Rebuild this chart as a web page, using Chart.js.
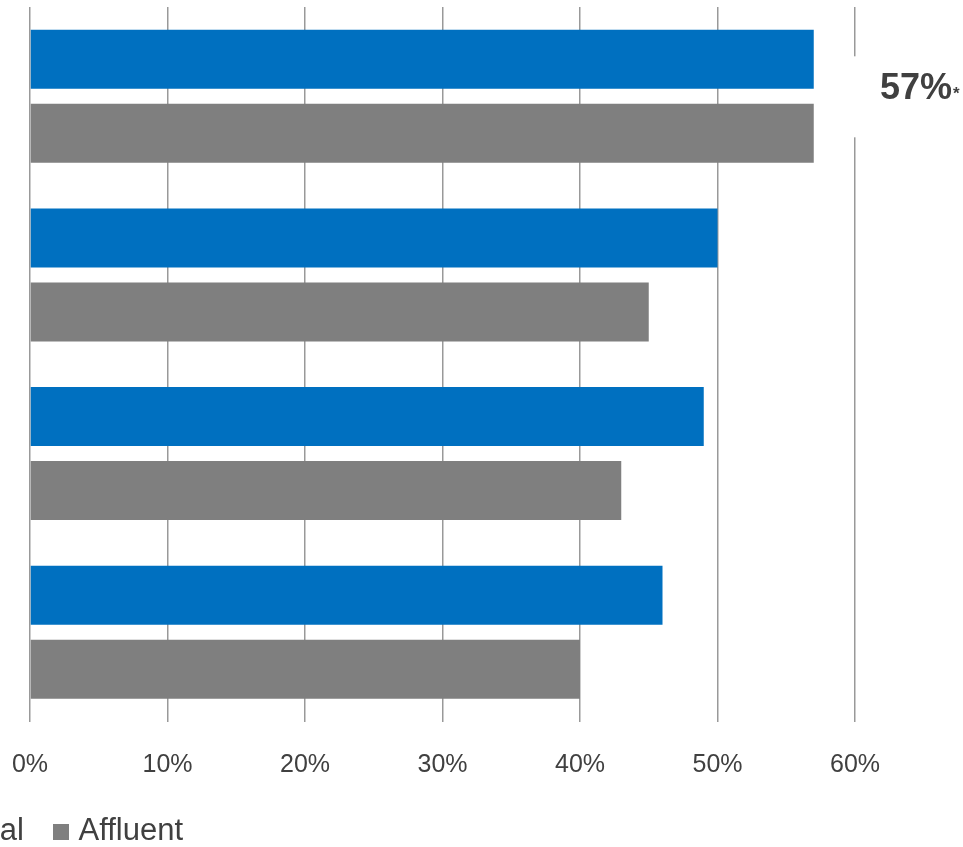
<!DOCTYPE html>
<html>
<head>
<meta charset="utf-8">
<title>Bar chart</title>
<script src="https://cdn.jsdelivr.net/npm/chart.js@4/dist/chart.umd.min.js"></script>
<style>
  html, body { margin: 0; padding: 0; background: #fff; overflow: hidden; }
  #wrap { position: absolute; left: -96px; top: 0; }
</style>
</head>
<body>
<div id="wrap"><canvas id="chart" width="1059" height="857"></canvas></div>
<script>
// Data
const categories = ['Group 1', 'Group 2', 'Group 3', 'Group 4'];
const seriesNames = ['Total', 'Affluent'];
const totalValues = [57, 50, 49, 46];
const affluentValues = [57, 45, 43, 40];
const xTicks = [0, 10, 20, 30, 40, 50, 60];

const BLUE = '#0070C0';
const GREY = '#7F7F7F';
const TEXT = '#404040';

// Square legend swatches (canvas point styles)
const swatch = (color) => {
    const c = document.createElement('canvas');
    c.width = 16;
    c.height = 16;
    const g = c.getContext('2d');
    g.fillStyle = color;
    g.fillRect(0, 0, 16, 16);
    return c;
};
const swatches = [swatch(BLUE), swatch(GREY)];

// Callout for the first bar, printed past the 60% line on a white box
const calloutPlugin = {
    id: 'callout',
    afterDatasetsDraw(chart) {
        const { ctx, scales: { x, y } } = chart;
        const gx = x.getPixelForValue(xTicks[xTicks.length - 1]);
        const cy = y.getPixelForValue(0);
        ctx.save();
        ctx.fillStyle = '#fff';
        ctx.fillRect(gx - 6, cy - 40, chart.width - gx + 6, 81);
        ctx.fillStyle = TEXT;
        ctx.textBaseline = 'alphabetic';
        ctx.font = 'bold 36px Arial';
        const txt = totalValues[0] + '%';
        ctx.fillText(txt, gx + 25, cy + 3);
        const w = ctx.measureText(txt).width;
        ctx.font = 'bold 17px Arial';
        ctx.fillText('*', gx + 25 + w + 1, cy + 3);
        ctx.restore();
    }
};

new Chart(document.getElementById('chart'), {
    type: 'bar',
    data: {
        labels: categories,
        datasets: [
            { label: seriesNames[0], data: totalValues, backgroundColor: BLUE },
            { label: seriesNames[1], data: affluentValues, backgroundColor: GREY }
        ]
    },
    options: {
        indexAxis: 'y',
        responsive: false,
        animation: false,
        devicePixelRatio: 1,
        categoryPercentage: 0.828,
        barPercentage: 0.797,
        layout: { padding: { top: 7, right: 108, left: 0, bottom: 0 } },
        scales: {
            x: {
                min: xTicks[0],
                max: xTicks[xTicks.length - 1],
                afterBuildTicks: (axis) => { axis.ticks = xTicks.map(v => ({ value: v })); },
                afterFit: (axis) => { axis.height = 58.5; },
                border: { display: false },
                grid: { color: '#999999', lineWidth: 1.5, drawTicks: false },
                ticks: {
                    padding: 29,
                    color: TEXT,
                    font: { family: 'Arial', size: 25 },
                    callback: (v) => v + '%'
                }
            },
            y: {
                afterFit: (axis) => { axis.width = 126; },
                border: { display: false },
                grid: { display: false },
                ticks: { display: false }
            }
        },
        plugins: {
            tooltip: { enabled: false },
            legend: {
                position: 'bottom',
                align: 'start',
                labels: {
                    usePointStyle: true,
                    pointStyleWidth: 3,
                    boxHeight: 16,
                    padding: 36,
                    color: TEXT,
                    font: { family: 'Arial', size: 31 },
                    generateLabels(chart) {
                        const items = Chart.defaults.plugins.legend.labels.generateLabels(chart);
                        items.forEach((item, i) => { item.pointStyle = swatches[i]; });
                        return items;
                    }
                }
            }
        }
    },
    plugins: [calloutPlugin]
});
</script>
</body>
</html>
